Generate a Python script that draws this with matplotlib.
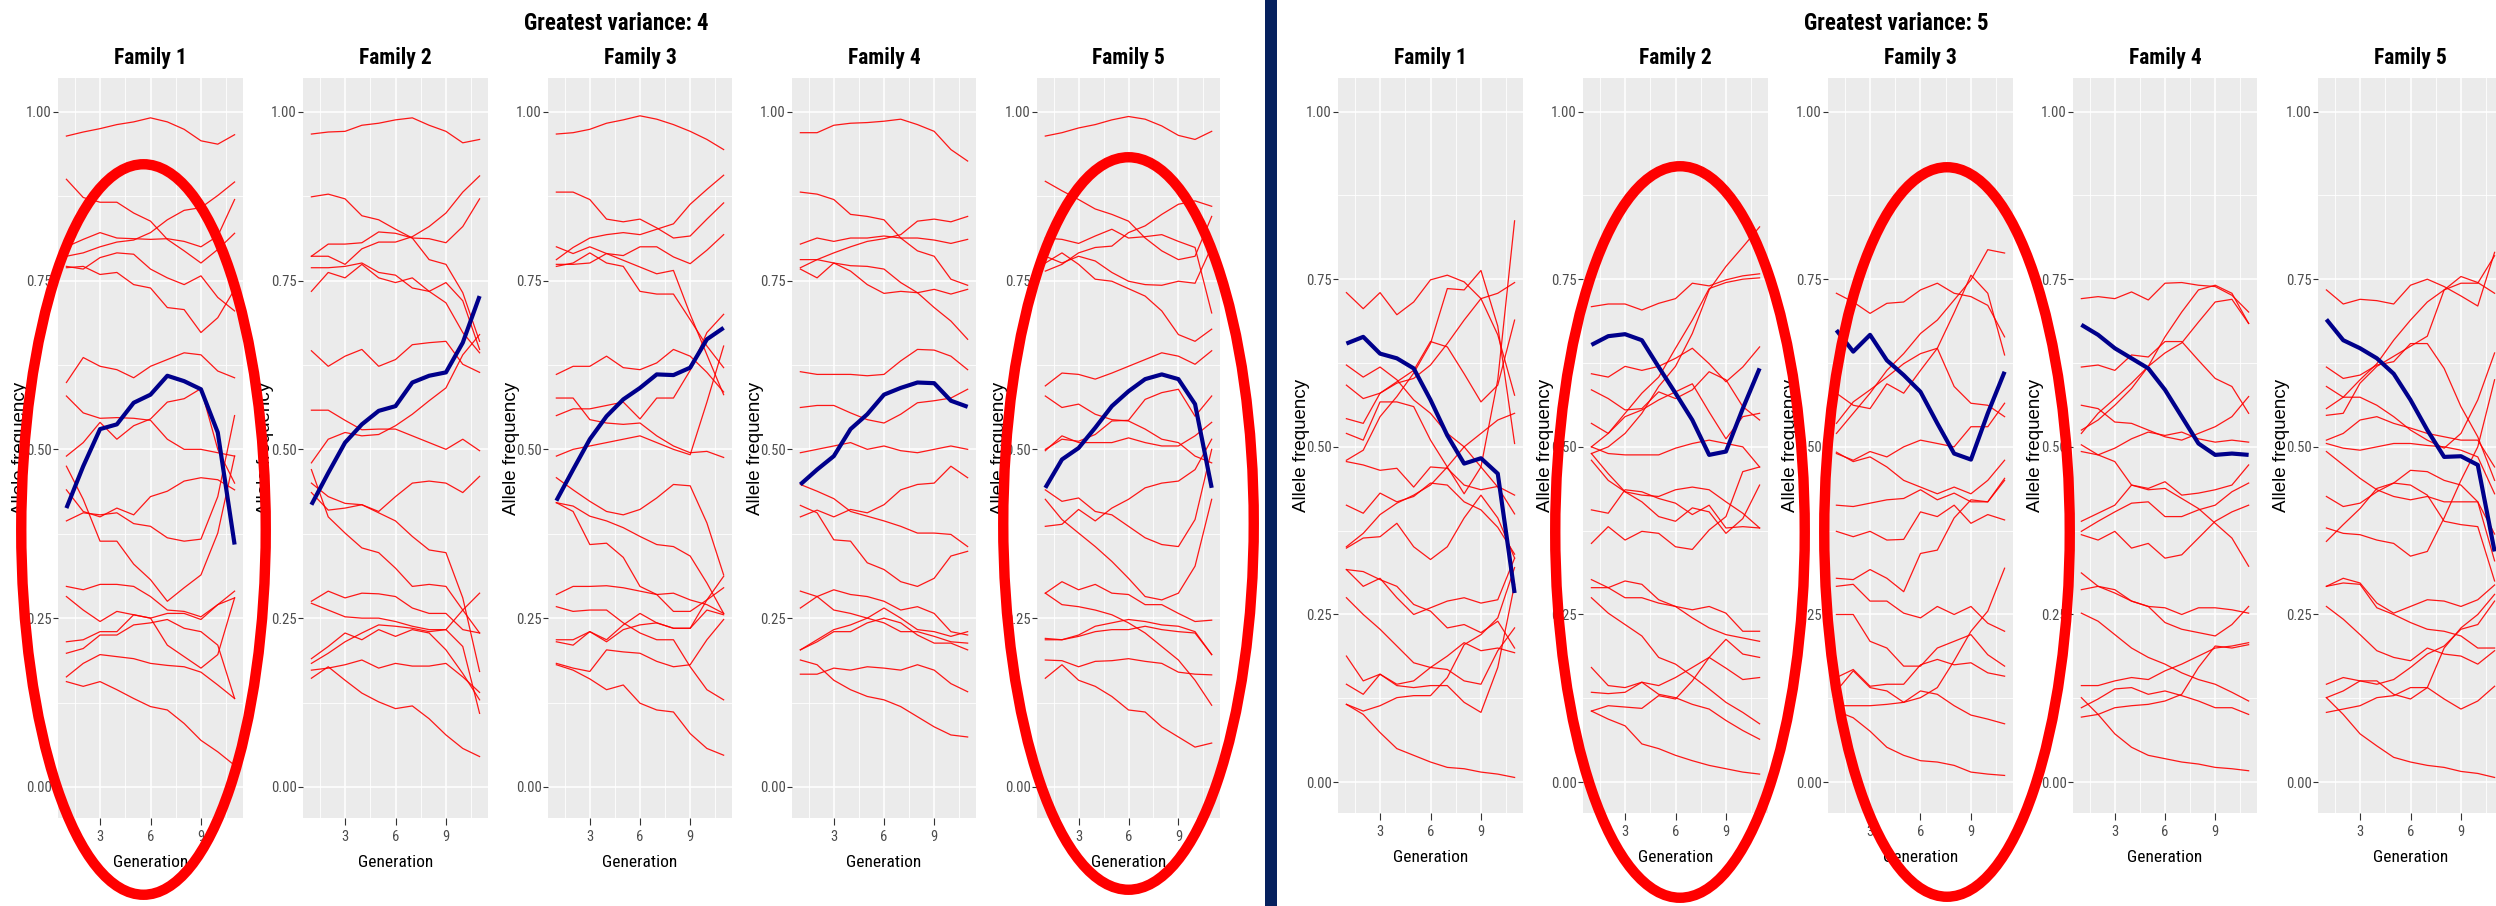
import matplotlib
matplotlib.use("Agg")
import matplotlib.pyplot as plt
import matplotlib.font_manager as fm
from matplotlib.patches import Ellipse, Rectangle

# ---------------------------------------------------------------- data
generations = list(range(1, 12))
family_names = ["Family 1", "Family 2", "Family 3", "Family 4", "Family 5"]
group_titles = ["Greatest variance: 4", "Greatest variance: 5"]
y_ticks = [0.0, 0.25, 0.5, 0.75, 1.0]
y_tick_labels = ["0.00", "0.25", "0.50", "0.75", "1.00"]
x_ticks = [3, 6, 9]

# allele frequency trajectories per family (red) and the highlighted one (navy)
var4_fam1_lines = [
    [0.964, 0.970, 0.975, 0.981, 0.985, 0.991, 0.985, 0.974, 0.957, 0.952, 0.966],
    [0.900, 0.873, 0.866, 0.866, 0.850, 0.838, 0.811, 0.794, 0.776, 0.796, 0.820],
    [0.800, 0.811, 0.821, 0.813, 0.812, 0.811, 0.812, 0.808, 0.800, 0.816, 0.870],
    [0.786, 0.791, 0.800, 0.807, 0.810, 0.821, 0.840, 0.854, 0.858, 0.876, 0.896],
    [0.771, 0.767, 0.784, 0.791, 0.789, 0.767, 0.754, 0.744, 0.757, 0.725, 0.705],
    [0.769, 0.771, 0.759, 0.762, 0.744, 0.739, 0.710, 0.707, 0.673, 0.695, 0.737],
    [0.599, 0.636, 0.623, 0.618, 0.606, 0.623, 0.633, 0.643, 0.640, 0.616, 0.606],
    [0.579, 0.554, 0.546, 0.547, 0.546, 0.543, 0.515, 0.500, 0.500, 0.495, 0.490],
    [0.490, 0.510, 0.540, 0.515, 0.535, 0.545, 0.570, 0.575, 0.590, 0.500, 0.450],
    [0.475, 0.426, 0.364, 0.364, 0.330, 0.307, 0.275, 0.295, 0.314, 0.376, 0.490],
    [0.440, 0.408, 0.400, 0.413, 0.403, 0.430, 0.438, 0.453, 0.458, 0.455, 0.440],
    [0.394, 0.406, 0.403, 0.406, 0.390, 0.386, 0.369, 0.364, 0.367, 0.430, 0.550],
    [0.297, 0.292, 0.300, 0.300, 0.297, 0.282, 0.262, 0.260, 0.252, 0.270, 0.280],
    [0.282, 0.262, 0.245, 0.260, 0.255, 0.250, 0.257, 0.257, 0.248, 0.270, 0.290],
    [0.215, 0.218, 0.230, 0.230, 0.255, 0.250, 0.210, 0.193, 0.176, 0.196, 0.280],
    [0.198, 0.205, 0.225, 0.225, 0.240, 0.243, 0.248, 0.235, 0.230, 0.210, 0.131],
    [0.163, 0.183, 0.196, 0.193, 0.190, 0.183, 0.180, 0.178, 0.170, 0.151, 0.131],
    [0.156, 0.149, 0.156, 0.144, 0.131, 0.119, 0.114, 0.094, 0.069, 0.052, 0.032],
]
var4_fam1_top = [0.413, 0.475, 0.530, 0.537, 0.569, 0.581, 0.609, 0.601, 0.589, 0.525, 0.359]

var4_fam2_lines = [
    [0.967, 0.970, 0.971, 0.980, 0.983, 0.988, 0.991, 0.980, 0.971, 0.954, 0.959],
    [0.874, 0.878, 0.871, 0.846, 0.840, 0.826, 0.813, 0.781, 0.774, 0.732, 0.660],
    [0.786, 0.804, 0.804, 0.806, 0.822, 0.820, 0.813, 0.812, 0.806, 0.830, 0.871],
    [0.786, 0.786, 0.774, 0.797, 0.807, 0.807, 0.815, 0.830, 0.850, 0.881, 0.905],
    [0.769, 0.769, 0.771, 0.776, 0.762, 0.758, 0.739, 0.734, 0.747, 0.720, 0.648],
    [0.734, 0.762, 0.754, 0.774, 0.754, 0.747, 0.754, 0.734, 0.717, 0.673, 0.643],
    [0.646, 0.623, 0.638, 0.648, 0.623, 0.633, 0.655, 0.658, 0.660, 0.626, 0.614],
    [0.558, 0.558, 0.543, 0.529, 0.530, 0.530, 0.520, 0.510, 0.500, 0.515, 0.498],
    [0.480, 0.515, 0.525, 0.520, 0.522, 0.535, 0.552, 0.572, 0.591, 0.640, 0.670],
    [0.470, 0.400, 0.376, 0.354, 0.347, 0.324, 0.297, 0.300, 0.297, 0.262, 0.228],
    [0.436, 0.410, 0.413, 0.418, 0.406, 0.394, 0.371, 0.351, 0.347, 0.280, 0.171],
    [0.450, 0.430, 0.420, 0.418, 0.408, 0.430, 0.450, 0.453, 0.450, 0.436, 0.460],
    [0.275, 0.290, 0.280, 0.287, 0.286, 0.282, 0.265, 0.257, 0.257, 0.233, 0.228],
    [0.272, 0.262, 0.252, 0.250, 0.250, 0.245, 0.238, 0.233, 0.233, 0.262, 0.287],
    [0.190, 0.208, 0.228, 0.218, 0.233, 0.223, 0.233, 0.228, 0.203, 0.168, 0.129],
    [0.183, 0.198, 0.215, 0.228, 0.240, 0.238, 0.235, 0.230, 0.233, 0.208, 0.109],
    [0.173, 0.176, 0.181, 0.188, 0.176, 0.183, 0.179, 0.179, 0.183, 0.163, 0.140],
    [0.161, 0.178, 0.158, 0.139, 0.126, 0.116, 0.120, 0.101, 0.077, 0.057, 0.045],
]
var4_fam2_top = [0.418, 0.465, 0.510, 0.537, 0.557, 0.564, 0.599, 0.609, 0.614, 0.658, 0.727]

var4_fam3_lines = [
    [0.967, 0.969, 0.974, 0.983, 0.988, 0.994, 0.989, 0.981, 0.971, 0.959, 0.944],
    [0.881, 0.881, 0.870, 0.841, 0.837, 0.841, 0.828, 0.813, 0.816, 0.841, 0.865],
    [0.781, 0.799, 0.813, 0.818, 0.821, 0.818, 0.826, 0.834, 0.863, 0.885, 0.906],
    [0.774, 0.774, 0.776, 0.790, 0.787, 0.800, 0.800, 0.785, 0.775, 0.795, 0.818],
    [0.771, 0.776, 0.791, 0.776, 0.771, 0.734, 0.730, 0.730, 0.692, 0.653, 0.621],
    [0.800, 0.790, 0.800, 0.790, 0.780, 0.770, 0.760, 0.765, 0.700, 0.640, 0.581],
    [0.611, 0.623, 0.623, 0.638, 0.621, 0.618, 0.628, 0.648, 0.638, 0.614, 0.585],
    [0.550, 0.560, 0.560, 0.565, 0.570, 0.545, 0.576, 0.576, 0.617, 0.673, 0.700],
    [0.576, 0.576, 0.544, 0.539, 0.537, 0.539, 0.520, 0.505, 0.495, 0.497, 0.488],
    [0.490, 0.500, 0.505, 0.510, 0.515, 0.520, 0.510, 0.500, 0.492, 0.570, 0.653],
    [0.458, 0.440, 0.423, 0.408, 0.403, 0.411, 0.428, 0.448, 0.446, 0.391, 0.314],
    [0.421, 0.416, 0.401, 0.394, 0.384, 0.371, 0.359, 0.356, 0.342, 0.302, 0.257],
    [0.421, 0.408, 0.359, 0.361, 0.340, 0.297, 0.285, 0.287, 0.277, 0.270, 0.257],
    [0.285, 0.297, 0.297, 0.298, 0.295, 0.290, 0.285, 0.260, 0.260, 0.277, 0.312],
    [0.267, 0.260, 0.262, 0.262, 0.243, 0.228, 0.218, 0.218, 0.178, 0.144, 0.129],
    [0.218, 0.218, 0.230, 0.215, 0.233, 0.240, 0.243, 0.235, 0.235, 0.277, 0.295],
    [0.215, 0.210, 0.230, 0.218, 0.240, 0.257, 0.243, 0.235, 0.235, 0.262, 0.255],
    [0.183, 0.176, 0.171, 0.203, 0.200, 0.198, 0.186, 0.178, 0.181, 0.218, 0.248],
    [0.181, 0.173, 0.160, 0.144, 0.151, 0.124, 0.114, 0.111, 0.079, 0.057, 0.047],
]
var4_fam3_top = [0.424, 0.470, 0.515, 0.549, 0.574, 0.591, 0.611, 0.610, 0.621, 0.663, 0.680]

var4_fam4_lines = [
    [0.969, 0.969, 0.980, 0.983, 0.984, 0.986, 0.989, 0.981, 0.971, 0.944, 0.927],
    [0.881, 0.878, 0.870, 0.848, 0.845, 0.840, 0.813, 0.794, 0.786, 0.752, 0.743],
    [0.804, 0.813, 0.808, 0.813, 0.813, 0.816, 0.813, 0.813, 0.810, 0.805, 0.811],
    [0.769, 0.781, 0.791, 0.800, 0.808, 0.812, 0.818, 0.838, 0.841, 0.837, 0.845],
    [0.781, 0.781, 0.776, 0.772, 0.771, 0.767, 0.747, 0.732, 0.710, 0.690, 0.663],
    [0.767, 0.754, 0.776, 0.764, 0.744, 0.731, 0.734, 0.732, 0.737, 0.730, 0.737],
    [0.615, 0.611, 0.611, 0.611, 0.609, 0.611, 0.631, 0.648, 0.647, 0.638, 0.618],
    [0.562, 0.565, 0.565, 0.554, 0.544, 0.539, 0.552, 0.569, 0.572, 0.576, 0.589],
    [0.495, 0.500, 0.505, 0.510, 0.500, 0.505, 0.498, 0.495, 0.500, 0.505, 0.500],
    [0.400, 0.410, 0.400, 0.411, 0.406, 0.418, 0.440, 0.448, 0.450, 0.475, 0.458],
    [0.448, 0.438, 0.427, 0.408, 0.401, 0.394, 0.386, 0.376, 0.376, 0.374, 0.356],
    [0.417, 0.406, 0.366, 0.364, 0.332, 0.322, 0.304, 0.297, 0.309, 0.342, 0.349],
    [0.290, 0.282, 0.292, 0.285, 0.282, 0.275, 0.262, 0.267, 0.257, 0.230, 0.225],
    [0.265, 0.282, 0.262, 0.257, 0.250, 0.243, 0.230, 0.230, 0.223, 0.215, 0.213],
    [0.203, 0.218, 0.233, 0.240, 0.250, 0.265, 0.250, 0.233, 0.230, 0.223, 0.230],
    [0.203, 0.215, 0.230, 0.230, 0.243, 0.250, 0.243, 0.225, 0.213, 0.213, 0.203],
    [0.188, 0.181, 0.158, 0.144, 0.134, 0.129, 0.119, 0.104, 0.089, 0.077, 0.074],
    [0.167, 0.167, 0.176, 0.173, 0.178, 0.176, 0.173, 0.181, 0.173, 0.153, 0.141],
]
var4_fam4_top = [0.448, 0.470, 0.490, 0.530, 0.552, 0.581, 0.591, 0.599, 0.598, 0.572, 0.563]

var4_fam5_lines = [
    [0.964, 0.969, 0.976, 0.981, 0.988, 0.993, 0.989, 0.979, 0.965, 0.959, 0.971],
    [0.897, 0.883, 0.870, 0.856, 0.848, 0.838, 0.813, 0.794, 0.781, 0.786, 0.845],
    [0.764, 0.774, 0.791, 0.799, 0.801, 0.821, 0.831, 0.848, 0.863, 0.868, 0.860],
    [0.813, 0.811, 0.805, 0.816, 0.826, 0.813, 0.815, 0.818, 0.808, 0.799, 0.702],
    [0.776, 0.791, 0.774, 0.752, 0.749, 0.738, 0.727, 0.705, 0.670, 0.660, 0.678],
    [0.786, 0.776, 0.786, 0.779, 0.762, 0.749, 0.744, 0.743, 0.749, 0.746, 0.800],
    [0.594, 0.613, 0.611, 0.604, 0.613, 0.623, 0.633, 0.643, 0.638, 0.626, 0.646],
    [0.579, 0.562, 0.567, 0.552, 0.544, 0.542, 0.530, 0.515, 0.510, 0.490, 0.480],
    [0.500, 0.515, 0.512, 0.522, 0.542, 0.543, 0.574, 0.584, 0.589, 0.549, 0.579],
    [0.498, 0.520, 0.510, 0.510, 0.510, 0.517, 0.510, 0.505, 0.505, 0.520, 0.540],
    [0.440, 0.423, 0.428, 0.408, 0.403, 0.386, 0.369, 0.359, 0.356, 0.396, 0.500],
    [0.426, 0.396, 0.376, 0.356, 0.334, 0.309, 0.282, 0.277, 0.287, 0.327, 0.426],
    [0.386, 0.389, 0.411, 0.394, 0.413, 0.426, 0.443, 0.450, 0.453, 0.470, 0.515],
    [0.287, 0.304, 0.292, 0.300, 0.287, 0.285, 0.270, 0.270, 0.257, 0.245, 0.247],
    [0.287, 0.270, 0.267, 0.262, 0.255, 0.243, 0.228, 0.208, 0.188, 0.158, 0.121],
    [0.220, 0.218, 0.225, 0.238, 0.243, 0.248, 0.245, 0.240, 0.238, 0.230, 0.196],
    [0.218, 0.218, 0.223, 0.230, 0.233, 0.233, 0.238, 0.233, 0.230, 0.228, 0.196],
    [0.188, 0.187, 0.178, 0.186, 0.187, 0.190, 0.186, 0.183, 0.170, 0.167, 0.166],
    [0.161, 0.181, 0.158, 0.149, 0.134, 0.114, 0.111, 0.089, 0.074, 0.059, 0.065],
]
var4_fam5_top = [0.443, 0.485, 0.502, 0.532, 0.564, 0.586, 0.604, 0.611, 0.604, 0.567, 0.443]

var5_fam1_lines = [
    [0.730, 0.706, 0.730, 0.697, 0.716, 0.749, 0.756, 0.746, 0.721, 0.729, 0.745],
    [0.480, 0.495, 0.545, 0.575, 0.610, 0.654, 0.736, 0.734, 0.763, 0.680, 0.505],
    [0.622, 0.604, 0.619, 0.600, 0.570, 0.550, 0.520, 0.500, 0.470, 0.440, 0.400],
    [0.592, 0.572, 0.580, 0.597, 0.614, 0.657, 0.649, 0.609, 0.567, 0.592, 0.689],
    [0.542, 0.535, 0.580, 0.595, 0.602, 0.622, 0.654, 0.689, 0.721, 0.667, 0.577],
    [0.520, 0.510, 0.567, 0.567, 0.560, 0.510, 0.470, 0.430, 0.470, 0.600, 0.837],
    [0.478, 0.473, 0.465, 0.468, 0.440, 0.470, 0.468, 0.443, 0.436, 0.441, 0.428],
    [0.413, 0.401, 0.431, 0.418, 0.426, 0.446, 0.443, 0.418, 0.406, 0.380, 0.340],
    [0.349, 0.364, 0.366, 0.386, 0.351, 0.332, 0.351, 0.394, 0.428, 0.394, 0.334],
    [0.351, 0.371, 0.399, 0.416, 0.428, 0.443, 0.470, 0.500, 0.520, 0.540, 0.550],
    [0.317, 0.314, 0.302, 0.292, 0.265, 0.255, 0.230, 0.235, 0.223, 0.240, 0.200],
    [0.317, 0.292, 0.304, 0.275, 0.250, 0.260, 0.270, 0.275, 0.267, 0.272, 0.334],
    [0.275, 0.250, 0.228, 0.203, 0.178, 0.171, 0.168, 0.151, 0.146, 0.196, 0.230],
    [0.188, 0.151, 0.161, 0.146, 0.151, 0.171, 0.188, 0.208, 0.196, 0.200, 0.193],
    [0.146, 0.131, 0.161, 0.144, 0.141, 0.144, 0.144, 0.119, 0.104, 0.171, 0.295],
    [0.116, 0.106, 0.114, 0.126, 0.129, 0.129, 0.156, 0.205, 0.220, 0.245, 0.320],
    [0.116, 0.101, 0.074, 0.050, 0.040, 0.030, 0.022, 0.020, 0.015, 0.012, 0.007],
]
var5_fam1_top = [0.654, 0.664, 0.639, 0.632, 0.617, 0.570, 0.517, 0.475, 0.483, 0.460, 0.282]

var5_fam2_lines = [
    [0.709, 0.713, 0.713, 0.704, 0.714, 0.721, 0.744, 0.740, 0.749, 0.755, 0.758],
    [0.500, 0.520, 0.550, 0.580, 0.604, 0.647, 0.689, 0.736, 0.745, 0.750, 0.752],
    [0.609, 0.604, 0.620, 0.614, 0.620, 0.632, 0.647, 0.624, 0.597, 0.619, 0.649],
    [0.585, 0.572, 0.555, 0.557, 0.582, 0.572, 0.585, 0.612, 0.600, 0.560, 0.540],
    [0.490, 0.500, 0.520, 0.550, 0.590, 0.620, 0.669, 0.734, 0.769, 0.798, 0.828],
    [0.535, 0.520, 0.545, 0.555, 0.570, 0.582, 0.594, 0.552, 0.512, 0.545, 0.550],
    [0.500, 0.490, 0.488, 0.488, 0.488, 0.498, 0.505, 0.510, 0.505, 0.500, 0.470],
    [0.480, 0.450, 0.433, 0.428, 0.426, 0.436, 0.440, 0.436, 0.418, 0.401, 0.379],
    [0.406, 0.401, 0.436, 0.433, 0.423, 0.416, 0.399, 0.413, 0.379, 0.381, 0.379],
    [0.356, 0.381, 0.361, 0.374, 0.371, 0.351, 0.347, 0.376, 0.396, 0.463, 0.470],
    [0.490, 0.460, 0.433, 0.418, 0.396, 0.389, 0.409, 0.403, 0.371, 0.393, 0.443],
    [0.302, 0.290, 0.300, 0.295, 0.272, 0.262, 0.257, 0.262, 0.252, 0.225, 0.225],
    [0.290, 0.290, 0.275, 0.275, 0.267, 0.262, 0.245, 0.230, 0.220, 0.215, 0.210],
    [0.275, 0.252, 0.235, 0.218, 0.186, 0.176, 0.158, 0.139, 0.119, 0.104, 0.087],
    [0.171, 0.144, 0.141, 0.149, 0.144, 0.156, 0.171, 0.186, 0.213, 0.191, 0.186],
    [0.134, 0.132, 0.134, 0.149, 0.131, 0.126, 0.116, 0.109, 0.092, 0.077, 0.064],
    [0.106, 0.114, 0.112, 0.110, 0.129, 0.124, 0.151, 0.186, 0.170, 0.153, 0.156],
    [0.106, 0.094, 0.084, 0.057, 0.050, 0.040, 0.032, 0.025, 0.020, 0.015, 0.012],
]
var5_fam2_top = [0.652, 0.665, 0.668, 0.659, 0.619, 0.580, 0.540, 0.488, 0.493, 0.557, 0.617]

var5_fam3_lines = [
    [0.729, 0.716, 0.699, 0.714, 0.716, 0.734, 0.744, 0.729, 0.724, 0.711, 0.664],
    [0.520, 0.550, 0.580, 0.614, 0.639, 0.669, 0.689, 0.719, 0.749, 0.794, 0.789],
    [0.535, 0.567, 0.585, 0.604, 0.624, 0.639, 0.647, 0.700, 0.756, 0.729, 0.637],
    [0.580, 0.562, 0.557, 0.594, 0.580, 0.614, 0.647, 0.590, 0.565, 0.562, 0.545],
    [0.490, 0.480, 0.493, 0.485, 0.500, 0.510, 0.505, 0.500, 0.530, 0.530, 0.565],
    [0.492, 0.478, 0.485, 0.470, 0.450, 0.440, 0.430, 0.440, 0.430, 0.450, 0.480],
    [0.413, 0.411, 0.416, 0.421, 0.423, 0.436, 0.421, 0.431, 0.418, 0.418, 0.453],
    [0.374, 0.366, 0.374, 0.361, 0.362, 0.403, 0.396, 0.413, 0.386, 0.399, 0.391],
    [0.304, 0.302, 0.317, 0.304, 0.284, 0.341, 0.346, 0.394, 0.421, 0.418, 0.450],
    [0.292, 0.295, 0.270, 0.270, 0.252, 0.245, 0.262, 0.250, 0.262, 0.237, 0.225],
    [0.250, 0.250, 0.210, 0.200, 0.173, 0.173, 0.200, 0.210, 0.220, 0.190, 0.173],
    [0.156, 0.168, 0.143, 0.146, 0.146, 0.175, 0.183, 0.175, 0.178, 0.163, 0.158],
    [0.136, 0.166, 0.141, 0.136, 0.119, 0.136, 0.131, 0.114, 0.100, 0.094, 0.087],
    [0.114, 0.114, 0.114, 0.116, 0.119, 0.126, 0.141, 0.181, 0.225, 0.255, 0.319],
    [0.106, 0.096, 0.076, 0.052, 0.040, 0.032, 0.030, 0.025, 0.015, 0.012, 0.010],
]
var5_fam3_top = [0.674, 0.642, 0.667, 0.629, 0.607, 0.582, 0.535, 0.490, 0.481, 0.550, 0.612]

var5_fam4_lines = [
    [0.721, 0.724, 0.721, 0.731, 0.719, 0.744, 0.745, 0.741, 0.739, 0.726, 0.701],
    [0.619, 0.622, 0.614, 0.637, 0.634, 0.657, 0.657, 0.629, 0.602, 0.590, 0.550],
    [0.520, 0.550, 0.572, 0.595, 0.620, 0.640, 0.655, 0.686, 0.716, 0.720, 0.684],
    [0.525, 0.540, 0.562, 0.587, 0.620, 0.664, 0.701, 0.734, 0.741, 0.729, 0.684],
    [0.562, 0.557, 0.537, 0.535, 0.525, 0.515, 0.510, 0.520, 0.530, 0.545, 0.575],
    [0.503, 0.488, 0.498, 0.512, 0.522, 0.517, 0.522, 0.512, 0.507, 0.510, 0.507],
    [0.493, 0.488, 0.478, 0.443, 0.436, 0.438, 0.423, 0.408, 0.386, 0.364, 0.322],
    [0.389, 0.401, 0.413, 0.443, 0.438, 0.448, 0.428, 0.431, 0.436, 0.443, 0.473],
    [0.374, 0.389, 0.403, 0.416, 0.418, 0.396, 0.396, 0.406, 0.413, 0.433, 0.446],
    [0.369, 0.361, 0.374, 0.349, 0.356, 0.334, 0.339, 0.364, 0.389, 0.403, 0.413],
    [0.312, 0.292, 0.287, 0.270, 0.262, 0.260, 0.250, 0.260, 0.260, 0.257, 0.252],
    [0.287, 0.292, 0.282, 0.270, 0.262, 0.238, 0.228, 0.223, 0.218, 0.235, 0.262],
    [0.252, 0.240, 0.220, 0.200, 0.186, 0.176, 0.163, 0.153, 0.146, 0.134, 0.121],
    [0.144, 0.144, 0.151, 0.156, 0.153, 0.166, 0.176, 0.188, 0.200, 0.203, 0.208],
    [0.111, 0.124, 0.139, 0.141, 0.131, 0.136, 0.129, 0.121, 0.111, 0.111, 0.101],
    [0.097, 0.101, 0.111, 0.114, 0.116, 0.121, 0.131, 0.171, 0.203, 0.200, 0.205],
    [0.126, 0.101, 0.072, 0.052, 0.040, 0.035, 0.030, 0.027, 0.022, 0.020, 0.017],
]
var5_fam4_top = [0.682, 0.667, 0.647, 0.632, 0.617, 0.585, 0.545, 0.505, 0.488, 0.490, 0.488]

var5_fam5_lines = [
    [0.734, 0.713, 0.720, 0.718, 0.713, 0.741, 0.750, 0.739, 0.725, 0.710, 0.790],
    [0.557, 0.574, 0.600, 0.624, 0.659, 0.689, 0.716, 0.734, 0.754, 0.745, 0.729],
    [0.619, 0.602, 0.607, 0.622, 0.627, 0.654, 0.654, 0.617, 0.560, 0.515, 0.450],
    [0.547, 0.550, 0.595, 0.620, 0.635, 0.650, 0.665, 0.734, 0.744, 0.744, 0.785],
    [0.510, 0.520, 0.540, 0.545, 0.535, 0.528, 0.520, 0.515, 0.510, 0.510, 0.470],
    [0.590, 0.574, 0.574, 0.562, 0.545, 0.525, 0.510, 0.498, 0.520, 0.570, 0.640],
    [0.505, 0.498, 0.495, 0.500, 0.505, 0.505, 0.502, 0.500, 0.495, 0.485, 0.430],
    [0.426, 0.411, 0.416, 0.433, 0.446, 0.465, 0.463, 0.450, 0.443, 0.418, 0.370],
    [0.493, 0.473, 0.453, 0.436, 0.426, 0.421, 0.426, 0.418, 0.418, 0.418, 0.330],
    [0.359, 0.384, 0.408, 0.438, 0.446, 0.443, 0.428, 0.389, 0.384, 0.381, 0.300],
    [0.379, 0.371, 0.369, 0.361, 0.356, 0.337, 0.344, 0.394, 0.450, 0.500, 0.600],
    [0.292, 0.304, 0.297, 0.267, 0.252, 0.262, 0.272, 0.270, 0.262, 0.272, 0.294],
    [0.292, 0.297, 0.295, 0.260, 0.250, 0.238, 0.228, 0.225, 0.218, 0.200, 0.200],
    [0.262, 0.243, 0.220, 0.196, 0.186, 0.181, 0.200, 0.191, 0.188, 0.176, 0.196],
    [0.146, 0.156, 0.151, 0.146, 0.153, 0.171, 0.191, 0.203, 0.228, 0.235, 0.270],
    [0.126, 0.136, 0.151, 0.151, 0.131, 0.124, 0.141, 0.124, 0.109, 0.121, 0.143],
    [0.104, 0.109, 0.114, 0.126, 0.129, 0.141, 0.141, 0.200, 0.230, 0.250, 0.280],
    [0.126, 0.101, 0.072, 0.054, 0.037, 0.030, 0.025, 0.022, 0.016, 0.013, 0.007],
]
var5_fam5_top = [0.690, 0.659, 0.647, 0.632, 0.609, 0.570, 0.525, 0.485, 0.486, 0.473, 0.344]

groups = [
    [(var4_fam1_lines, var4_fam1_top), (var4_fam2_lines, var4_fam2_top),
     (var4_fam3_lines, var4_fam3_top), (var4_fam4_lines, var4_fam4_top),
     (var4_fam5_lines, var4_fam5_top)],
    [(var5_fam1_lines, var5_fam1_top), (var5_fam2_lines, var5_fam2_top),
     (var5_fam3_lines, var5_fam3_top), (var5_fam4_lines, var5_fam4_top),
     (var5_fam5_lines, var5_fam5_top)],
]

# ---------------------------------------------------------------- fonts
_installed = {f.name for f in fm.fontManager.ttflist}
_narrow_pref = ["Liberation Sans Narrow", "Arial Narrow", "Roboto Condensed",
                "Noto Sans Condensed", "DejaVu Sans Condensed", "Open Sans Condensed"]
NARROW, SCALE = None, 1.0
for _n in _narrow_pref:
    if _n in _installed:
        NARROW = _n
        break
if NARROW is None:
    _any = sorted(n for n in _installed if ("Condensed" in n or "Narrow" in n)
                  and "Light" not in n and "Thin" not in n)
    if _any:
        NARROW = _any[0]
    else:
        NARROW, SCALE = "Liberation Sans", 0.82
REGULAR = "Liberation Sans" if "Liberation Sans" in _installed else "DejaVu Sans"


def fsize(s):
    return s * SCALE


# ---------------------------------------------------------------- layout (pixels)
W, H = 2496, 906
fig = plt.figure(figsize=(W / 100, H / 100), dpi=100)
fig.patch.set_facecolor("white")

panel_x = [
    [(58, 243), (303, 488), (548, 732), (792, 976), (1037, 1220)],
    [(1338, 1523), (1583, 1768), (1828, 2013), (2073, 2257), (2318, 2503)],
]
panel_y = [(78, 818), (78, 813)]
title_x = [616, 1896]

RED = "#FF0000"
NAVY = "#00008B"


def make_panel(x0, x1, y0, y1, lines, top, name):
    ax = fig.add_axes([x0 / W, 1 - y1 / H, (x1 - x0) / W, (y1 - y0) / H])
    ax.set_facecolor("#EBEBEB")
    for s in ax.spines.values():
        s.set_visible(False)
    ax.set_xlim(0.5, 11.5)
    ax.set_ylim(-0.046, 1.05)
    ax.set_xticks(x_ticks)
    ax.set_xticks([1.5, 4.5, 7.5, 10.5], minor=True)
    ax.set_yticks(y_ticks)
    ax.set_yticklabels(y_tick_labels)
    ax.set_yticks([0.125, 0.375, 0.625, 0.875], minor=True)
    ax.grid(which="major", color="white", linewidth=1.1)
    ax.grid(which="minor", color="white", linewidth=0.6)
    ax.set_axisbelow(True)
    ax.tick_params(which="minor", length=0)
    ax.tick_params(axis="x", which="major", length=5, width=0.8, color="#333333",
                   pad=3.5, labelsize=fsize(10.5), labelcolor="#4D4D4D")
    ax.tick_params(axis="y", which="major", length=3.6, width=0.8, color="#333333",
                   pad=1.0, labelsize=fsize(10.5), labelcolor="#4D4D4D")
    for lab in ax.get_xticklabels() + ax.get_yticklabels():
        lab.set_fontfamily(NARROW)

    for series in lines:
        ax.plot(generations, series, color=RED, linewidth=0.9, alpha=0.9)
    ax.plot(generations, top, color=NAVY, linewidth=3.0, solid_capstyle="butt")

    pw, ph = x1 - x0, y1 - y0
    ax.set_xlabel("Generation", fontfamily=NARROW, fontsize=fsize(12.5))
    ax.xaxis.set_label_coords(0.5, -(49.0) / ph)
    ax.xaxis.label.set_va("baseline")
    ax.set_ylabel("Allele frequency", fontfamily=REGULAR, fontsize=13.5)
    ax.yaxis.set_label_coords(-37.0 / pw, 0.5)
    ax.yaxis.label.set_va("center")
    ax.text(0.5, (y0 - 64.0) / ph + 1.0, name, transform=ax.transAxes,
            ha="center", va="baseline", fontfamily=NARROW, fontweight="bold",
            fontsize=fsize(15.5), clip_on=False)
    return ax


for g, fams in enumerate(groups):
    y0, y1 = panel_y[g]
    for k, (lines, top) in enumerate(fams):
        x0, x1 = panel_x[g][k]
        make_panel(x0, x1, y0, y1, lines, top, family_names[k])
    fig.text(title_x[g] / W, 1 - 30 / H, group_titles[g], ha="center", va="baseline",
             fontfamily=NARROW, fontweight="bold", fontsize=fsize(16.5))

# ---------------------------------------------------------------- overlay: divider and highlight rings
ov = fig.add_axes([0, 0, 1, 1])
ov.set_xlim(0, W)
ov.set_ylim(H, 0)
ov.axis("off")
ov.patch.set_alpha(0)
ov.add_patch(Rectangle((1265, -5), 12, H + 10, color="#06215E", lw=0))
rings = [(143.5, 529.5, 244.5, 730.5), (1128.5, 523.5, 250.5, 732.5),
         (1680, 532, 249.5, 731.5), (1947, 532, 245.5, 729.5)]
for cx, cy, w, h in rings:
    ov.add_patch(Ellipse((cx, cy), w, h, fill=False, edgecolor=RED, linewidth=7.5))

fig.savefig("out.png", dpi=100, facecolor="white")
